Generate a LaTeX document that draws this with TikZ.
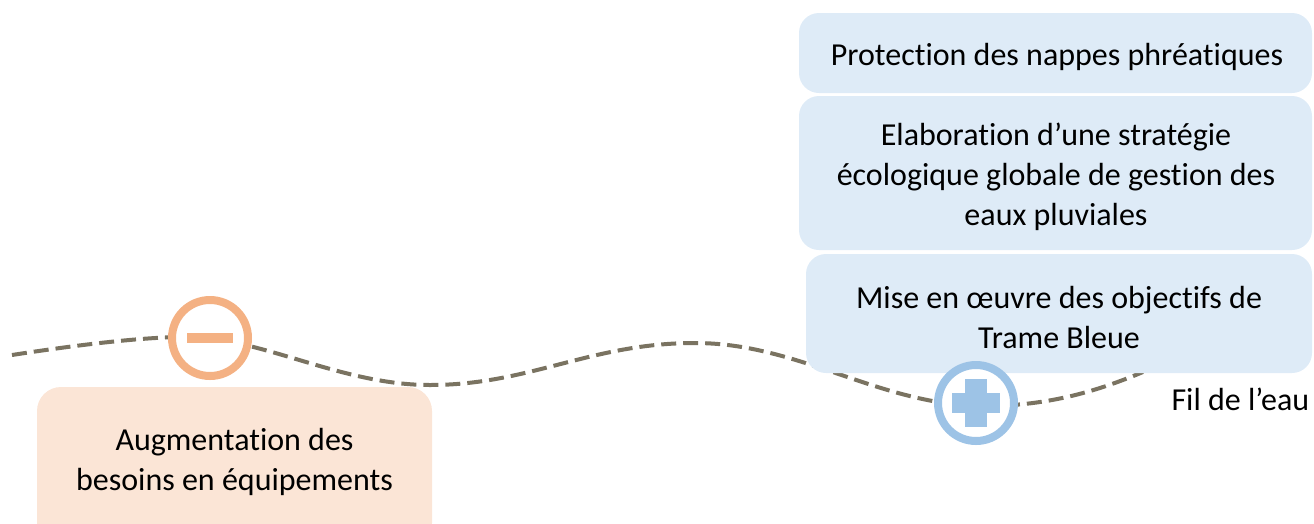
\documentclass[tikz,border=0pt]{standalone}
\usepackage{fontspec}
\setmainfont{Carlito}[Ligatures=NoCommon]
\definecolor{bluebox}{HTML}{DEEBF7}
\definecolor{orangebox}{HTML}{FBE5D6}
\definecolor{orangesign}{HTML}{F4B183}
\definecolor{bluesign}{HTML}{9DC3E6}
\definecolor{riverline}{HTML}{7A7361}
\begin{document}
\begin{tikzpicture}[x=1pt,y=-1pt,
  txt/.style={font=\fontsize{32}{40}\selectfont, align=center, text=black},
  bbox/.style={fill=bluebox, rounded corners=20pt, inner sep=0pt},
  obox/.style={fill=orangebox, rounded corners=24pt, inner sep=0pt},
  signring/.style={circle, draw=#1, line width=8pt, fill=white, minimum size=76pt, inner sep=0pt},
  river/.style={draw=riverline, line width=4pt, dash pattern=on 15pt off 7pt}
]
\useasboundingbox (0,0) rectangle (1314,523);
% river
\coordinate (r0) at (12,355);
\coordinate (r5) at (1143,372);
\draw[river] (r0) .. controls (70,346) and (140,337) .. (185,337)
  .. controls (262,337) and (340,385) .. (430,385)
  .. controls (530,385) and (590,343) .. (695,343)
  .. controls (800,343) and (880,406) .. (985,406)
  .. controls (1050,406) and (1100,390) .. (r5);
% blue boxes
\node[bbox, minimum width=513pt, minimum height=80pt] (b1) at (1055.5,53) {};
\node[txt] (b1t) at (1057,57) {Protection des nappes phréatiques};
\node[bbox, minimum width=513pt, minimum height=154pt] (b2) at (1055.5,173) {};
\node[txt] (b2t) at (1056,177) {Elaboration d’une stratégie\\écologique globale de gestion des\\eaux pluviales};
\node[bbox, minimum width=506pt, minimum height=119pt] (b3) at (1059,313.5) {};
\node[txt] (b3t) at (1059,317) {Mise en œuvre des objectifs de\\Trame Bleue};
% orange box
\node[obox, minimum width=395pt, minimum height=160pt] (o1) at (234.5,467) {};
\node[txt] (o1t) at (234.5,462) {Augmentation des\\besoins en équipements};
% signs
\node[signring=orangesign] (minus) at (210,338) {};
\fill[orangesign] ([xshift=-23pt,yshift=-5pt]minus.center) rectangle ([xshift=23pt,yshift=5pt]minus.center);
\node[signring=bluesign] (plus) at (976,403) {};
\fill[bluesign] ([xshift=-24pt,yshift=-10pt]plus.center) rectangle ([xshift=24pt,yshift=10pt]plus.center);
\fill[bluesign] ([xshift=-11pt,yshift=-24pt]plus.center) rectangle ([xshift=11pt,yshift=24pt]plus.center);
% label
\node[txt, anchor=west] (fil) at (1168,399) {Fil de l’eau};
\end{tikzpicture}
\end{document}
